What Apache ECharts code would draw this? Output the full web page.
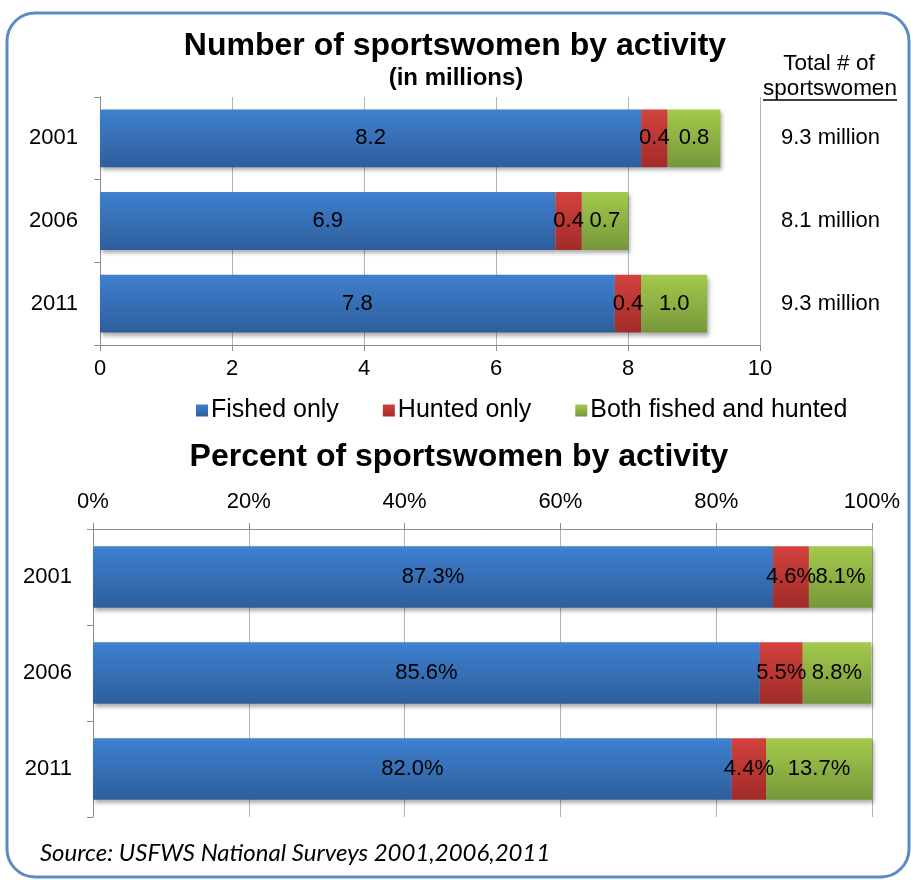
<!DOCTYPE html>
<html>
<head>
<meta charset="utf-8">
<script src="https://cdn.jsdelivr.net/npm/echarts@6/dist/echarts.min.js"></script>
<style>
  html, body { margin: 0; padding: 0; background: #fff; }
  #chart { width: 911px; height: 880px; }
</style>
</head>
<body>
<div id="chart"></div>
<script>
// Survey years (category axis, top to bottom)
const years = ['2001', '2006', '2011'];

// Number of sportswomen, millions
const fishedMillions = [8.2, 6.9, 7.8];
const huntedMillions = [0.4, 0.4, 0.4];
const bothMillions = [0.8, 0.7, 1.0];
const totalMillions = ['9.3', '8.1', '9.3'];

// Share of sportswomen, percent
const fishedPct = [87.3, 85.6, 82.0];
const huntedPct = [4.6, 5.5, 4.4];
const bothPct = [8.1, 8.8, 13.7];

const seriesNames = ['Fished only', 'Hunted only', 'Both fished and hunted'];

const FONT = '"Liberation Sans", Arial, sans-serif';
const TXT = 22;

function grad(top, bottom) {
  return new echarts.graphic.LinearGradient(0, 0, 0, 1, [
    { offset: 0, color: top },
    { offset: 1, color: bottom }
  ]);
}
const fills = [
  grad('#3f80cf', '#2e5e9c'),
  grad('#d2423e', '#a22b29'),
  grad('#a3ca4c', '#76973a')
];

const barItem = (i) => ({
  color: fills[i],
  shadowBlur: 4,
  shadowOffsetX: 2,
  shadowOffsetY: 3,
  shadowColor: 'rgba(0,0,0,0.32)'
});

function barSeries(name, idx, data, axisIdx, fmt, gap) {
  return {
    name: name,
    type: 'bar',
    stack: 'g' + axisIdx,
    xAxisIndex: axisIdx,
    yAxisIndex: axisIdx === 0 ? 0 : 2,
    barCategoryGap: gap,
    data: data,
    itemStyle: barItem(idx),
    emphasis: { disabled: true },
    label: {
      show: true,
      position: 'inside',
      color: '#000',
      fontFamily: FONT,
      fontSize: TXT,
      formatter: fmt
    }
  };
}

const countFmt = (p) => p.value.toFixed(1);
const pctFmt = (p) => p.value.toFixed(1) + '%';

const axisGray = '#8c8c8c';
const gridGray = '#b4b4b4';

const chart = echarts.init(document.getElementById('chart'), null, { renderer: 'canvas' });

const centered = (text, x, y, font) => ({
  type: 'text', x: x, y: y,
  style: { text: text, font: font, fill: '#000',
    align: 'center', verticalAlign: 'middle', textAlign: 'center', textVerticalAlign: 'middle' }
});

chart.setOption({
  animation: false,
  backgroundColor: '#fff',
  textStyle: { fontFamily: FONT },
  legend: {
    data: seriesNames,
    left: 191,
    top: 393,
    icon: 'rect',
    itemWidth: 12,
    itemHeight: 12,
    itemGap: 44,
    textStyle: { fontFamily: FONT, fontSize: 25, color: '#000', padding: [0, 0, 0, -2] },
    selectedMode: false
  },
  grid: [
    { left: 100, right: 151, top: 97, height: 248 },
    { left: 93, right: 39, top: 529, height: 288 }
  ],
  xAxis: [
    {
      gridIndex: 0,
      type: 'value',
      min: 0, max: 10, interval: 2,
      axisLine: { show: true, lineStyle: { color: axisGray } },
      axisTick: { show: true, length: 6, lineStyle: { color: axisGray } },
      axisLabel: { color: '#000', fontSize: TXT, margin: 13, fontFamily: FONT },
      splitLine: { show: true, lineStyle: { color: gridGray } }
    },
    {
      gridIndex: 1,
      type: 'value',
      position: 'top',
      min: 0, max: 100, interval: 20,
      axisLine: { show: true, lineStyle: { color: axisGray } },
      axisTick: { show: true, length: 6, lineStyle: { color: axisGray } },
      axisLabel: { color: '#000', fontSize: TXT, margin: 16, fontFamily: FONT, formatter: '{value}%' },
      splitLine: { show: true, lineStyle: { color: gridGray } }
    }
  ],
  yAxis: [
    {
      gridIndex: 0,
      type: 'category',
      data: years,
      inverse: true,
      axisLine: { show: true, lineStyle: { color: axisGray } },
      axisTick: { show: true, length: 6, lineStyle: { color: axisGray } },
      axisLabel: { color: '#000', fontSize: TXT, margin: 22, fontFamily: FONT }
    },
    {
      // totals column to the right of the count chart
      gridIndex: 0,
      type: 'category',
      position: 'right',
      data: totalMillions,
      inverse: true,
      axisLine: { show: false },
      axisTick: { show: false },
      splitLine: { show: false },
      axisLabel: {
        color: '#000', fontSize: TXT, margin: 21, fontFamily: FONT,
        align: 'left', formatter: '{value} million'
      }
    },
    {
      gridIndex: 1,
      type: 'category',
      data: years,
      inverse: true,
      axisLine: { show: true, lineStyle: { color: axisGray } },
      axisTick: { show: true, length: 6, lineStyle: { color: axisGray } },
      axisLabel: { color: '#000', fontSize: TXT, margin: 21, fontFamily: FONT }
    }
  ],
  series: [
    barSeries(seriesNames[0], 0, fishedMillions, 0, countFmt, '30%'),
    barSeries(seriesNames[1], 1, huntedMillions, 0, countFmt, '30%'),
    barSeries(seriesNames[2], 2, bothMillions, 0, countFmt, '30%'),
    barSeries(seriesNames[0], 0, fishedPct, 1, pctFmt, '36%'),
    barSeries(seriesNames[1], 1, huntedPct, 1, pctFmt, '36%'),
    barSeries(seriesNames[2], 2, bothPct, 1, pctFmt, '36%')
  ],
  graphic: [
    {
      type: 'rect',
      shape: { x: 7, y: 13, width: 902, height: 864, r: 28 },
      style: { fill: 'none', stroke: '#5b8bc7', lineWidth: 3 },
      silent: true
    },
    centered('Number of sportswomen by activity', 455, 46, 'bold 32px ' + FONT),
    centered('(in millions)', 456, 78, 'bold 24px ' + FONT),
    centered('Total # of', 829, 64, '22.5px ' + FONT),
    centered('sportswomen', 830, 89, '22.5px ' + FONT),
    {
      type: 'line',
      shape: { x1: 763, y1: 100, x2: 897, y2: 100 },
      style: { stroke: '#000', lineWidth: 1.5 }
    },
    centered('Percent of sportswomen by activity', 459, 457, 'bold 32px ' + FONT),
    {
      type: 'text', x: 40, y: 853,
      style: { text: 'Source: USFWS National Surveys 2001,2006,2011', font: 'italic 24px Lato, ' + FONT,
        fill: '#000', align: 'left', verticalAlign: 'middle', textAlign: 'left', textVerticalAlign: 'middle' }
    }
  ]
});
</script>
</body>
</html>
